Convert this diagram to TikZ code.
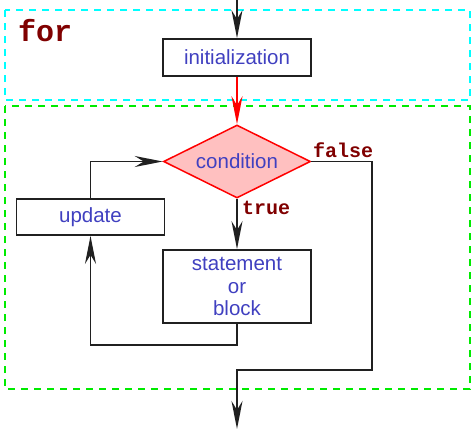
\documentclass[tikz,border=0pt]{standalone}
\usepackage{fontspec}
\setmainfont{Liberation Sans}
\newfontfamily\codefont{Liberation Mono}
\usetikzlibrary{arrows.meta,shapes.geometric}
\definecolor{txtblue}{RGB}{64,64,192}
\definecolor{kwred}{RGB}{128,0,0}
\definecolor{boxline}{RGB}{32,32,32}
\definecolor{pinkfill}{RGB}{255,192,192}
\definecolor{framecyan}{RGB}{0,255,255}
\definecolor{framegreen}{RGB}{0,235,0}
\definecolor{arrred}{RGB}{255,0,0}
\tikzset{
  stepbox/.style={draw=boxline, line width=1.8pt, minimum width=148pt, align=center,
    text=txtblue, font=\fontsize{20.5}{22.5}\selectfont, inner sep=0pt},
  conn/.style={draw=boxline, line width=1.8pt, -{Stealth[length=28pt,width=11pt,inset=9pt]}},
  kw/.style={text=kwred, font=\codefont\bfseries\fontsize{20}{22}\selectfont, inner sep=0pt},
  frame/.style={dash pattern=on 7pt off 6pt, line width=1.5pt}
}
\begin{document}
\begin{tikzpicture}[x=1pt,y=-1pt]
\useasboundingbox (0,0) rectangle (471,429);
\draw[frame, framecyan] (5,10) rectangle (470,100);
\draw[frame, framegreen] (5,106) rectangle (470,389);
\node[text=kwred, font=\codefont\bfseries\fontsize{30}{32}\selectfont, anchor=west, inner sep=0pt] (for) at (18,31) {for};
\node[stepbox, minimum height=37pt] (init) at (237,57.5) {initialization};
\node[diamond, draw=arrred, fill=pinkfill, line width=1.5pt, minimum width=147pt, minimum height=73pt,
  inner sep=0pt, text=txtblue, font=\fontsize{20.5}{22.5}\selectfont, aspect=2] (cond) at (237,161.5) {condition};
\node[stepbox, minimum height=36pt] (upd) at (90.5,217) {update};
\node[stepbox, minimum height=73pt] (stmt) at (237,286.5) {statement\\or\\block};
\coordinate (top) at (237,0);
\coordinate (bot) at (237,429);
\coordinate (fr) at (372,161.5);
\coordinate (fb) at (372,370);
\coordinate (fm) at (237,370);
\coordinate (sb) at (237,345);
\coordinate (ub) at (90.5,345);
\coordinate (ut) at (90.5,161.5);
\draw[conn] (top) -- (init.north);
\draw[line width=1.8pt, arrred, -{Stealth[length=28pt,width=11pt,inset=9pt]}] (init.south) -- (cond.north);
\draw[conn] (cond.south) -- (stmt.north);
\draw[conn] (stmt.south) -- (sb) -- (ub) -- (upd.south);
\draw[conn] (upd.north) -- (ut) -- (cond.west);
\draw[conn] (cond.east) -- (fr) -- (fb) -- (fm) -- (bot);
\node[kw, anchor=south west] (false) at (313,158) {false};
\node[kw, anchor=north west] (true) at (242,201) {true};
\end{tikzpicture}
\end{document}
